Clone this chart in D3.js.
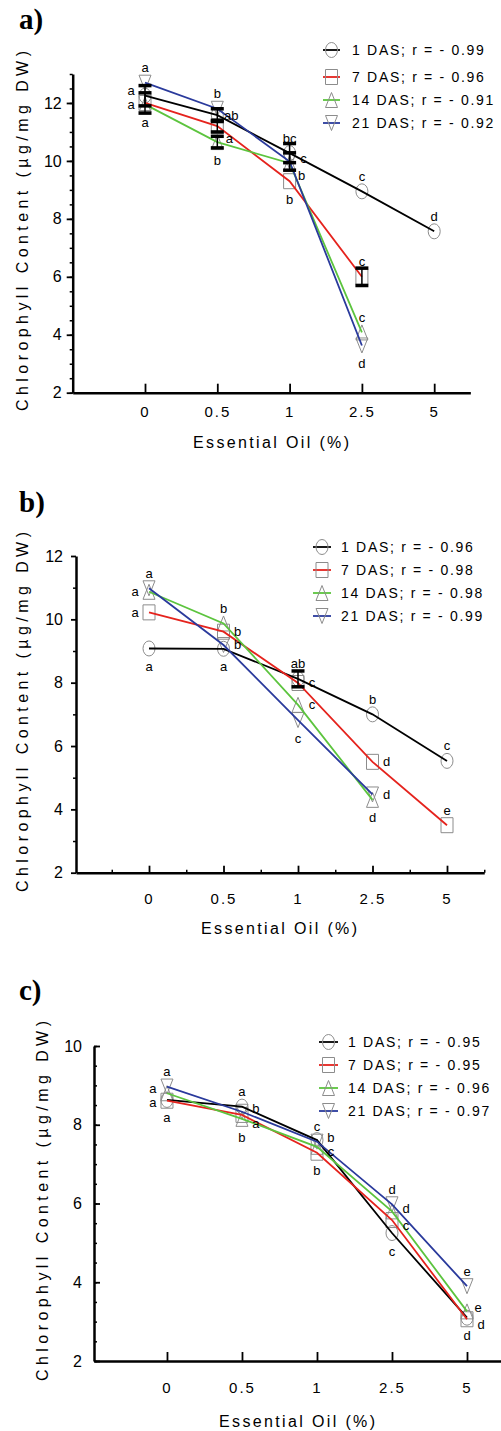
<!DOCTYPE html>
<html><head><meta charset="utf-8">
<script src="https://cdn.jsdelivr.net/npm/d3@7"></script>
<style>body{margin:0;background:#fff} svg{display:block} text{font-family:Arial,"Liberation Sans",sans-serif;fill:#000}</style>
</head><body><svg id="chart" width="501" height="1431"></svg>
<script>
// ---------- data ----------
const categories = ["0", "0.5", "1", "2.5", "5"];
const seriesNames = ["1 DAS", "7 DAS", "14 DAS", "21 DAS"];

// panel a
const aR = ["- 0.99", "- 0.96", "- 0.91", "- 0.92"];
const a1 = [12.25, 11.58, 10.27, 8.95, 7.57];
const a7 = [12.0, 11.2, 9.3, 6.0, null];
const a14 = [11.95, 10.65, 9.92, 4.08, null];
const a21 = [12.7, 11.8, 9.98, 3.63, null];
const a1Err = [0.35, 0.22, 0.33, 0, 0];
const a7Err = [0.35, 0.2, 0, 0.3, 0];
const a14Err = [0, 0.2, 0, 0, 0];
const a21Err = [0, 0, 0.3, 0, 0];
const a1Let = ["a", "ab", "bc", "c", "d"];
const a7Let = ["a", "a", "b", "c", ""];
const a14Let = ["a", "b", "b", "c", ""];
const a21Let = ["a", "b", "c", "d", ""];

// panel b
const bR = ["- 0.96", "- 0.98", "- 0.98", "- 0.99"];
const b1 = [9.08, 9.07, 8.12, 7.0, 5.53];
const b7 = [10.22, 9.61, 7.99, 5.5, 3.5];
const b14 = [10.87, 9.87, 7.3, 4.3, null];
const b21 = [10.98, 9.19, 6.82, 4.47, null];
const b1Err = [0, 0, 0.25, 0, 0];
const b1Let = ["a", "a", "ab", "b", "c"];
const b7Let = ["a", "b", "c", "d", "e"];
const b14Let = ["a", "b", "c", "d", ""];
const b21Let = ["a", "b", "c", "d", ""];

// panel c
const cR = ["- 0.95", "- 0.95", "- 0.96", "- 0.97"];
const c1 = [8.63, 8.46, 7.61, 5.25, 3.1];
const c7 = [8.61, 8.25, 7.29, 5.58, 3.06];
const c14 = [8.8, 8.15, 7.44, 5.8, 3.26];
const c21 = [8.97, 8.33, 7.57, 5.98, 3.9];
const c1Let = ["a", "a", "b", "c", "d"];
const c7Let = ["a", "b", "b", "c", "d"];
const c14Let = ["a", "a", "c", "d", "e"];
const c21Let = ["a", "b", "c", "d", "e"];

// ---------- label placement (layout, not data) ----------
const aPos = [["lu","r","t","t","t"],["ld","br","b","t",""],["b","b","br","t",""],["t","t","ru","b",""]];
const bPos = [["b","b","t","t","t"],["l","r","r","r","t"],["l","t","r","b",""],["t","r","b","r",""]];
const cPos = [["b","t","ru","b","b"],["ld","bb","b","rd","rd"],["lu","rd","rd","ru","ruu"],["t","ru","t","t","t"]];

const zero = [0,0,0,0,0];
const panels = [
  { title: "a)", series: [a1, a7, a14, a21], err: [a1Err, a7Err, a14Err, a21Err],
    lets: [a1Let, a7Let, a14Let, a21Let], pos: aPos, r: aR,
    L: { titleX: 19, titleY: 29, xDom: [-1, 4.5], xRange: [72.7, 470.35], yDom: [2, 13], yRange: [392.7, 74],
         yMajor: [2,4,6,8,10,12], yMinor: d3.range(2, 13.01, 0.5), yTick: 6, yMinorTick: 3, yPad: 5,
         xMinor: null, xTick: 9, xPad: 14, yLabX: 28, yLabY: 231, xLabX: 271, xLabY: 448,
         legLine: [323, 340], legTextX: 352, legY: [50, 77, 100, 123] } },
  { title: "b)", series: [b1, b7, b14, b21], err: [b1Err, zero, zero, zero],
    lets: [b1Let, b7Let, b14Let, b21Let], pos: bPos, r: bR,
    L: { titleX: 19, titleY: 512, xDom: [-0.98, 4.5], xRange: [76, 484.25], yDom: [2, 12], yRange: [872.7, 556],
         yMajor: [2,4,6,8,10,12], yMinor: d3.range(3, 12, 2), yTick: 5, yMinorTick: 3, yPad: 8,
         xMinor: d3.range(-0.5, 4.6, 1), xTick: 7, xPad: 21, yLabX: 28, yLabY: 712, xLabX: 279, xLabY: 934,
         legLine: [313, 331], legTextX: 341, legY: [547, 570, 593, 616] } },
  { title: "c)", series: [c1, c7, c14, c21], err: [zero, zero, zero, zero],
    lets: [c1Let, c7Let, c14Let, c21Let], pos: cPos, r: cR,
    L: { titleX: 19, titleY: 1000, xDom: [-0.973, 4.5], xRange: [94, 504.5], yDom: [2, 10], yRange: [1361, 1046],
         yMajor: [2,4,6,8,10], yMinor: d3.range(2, 10.01, 0.5), yTick: -6, yMinorTick: -3, yPad: 12,
         xMinor: null, xTick: 9, xPad: 21, yLabX: 48, yLabY: 1201, xLabX: 297, xLabY: 1427,
         legLine: [319, 338], legTextX: 348, legY: [1042, 1065, 1088, 1111] } }
];

const colors = ["#000000", "#e5231d", "#5cc43e", "#2a3a9c"];
const markerColor = "#8c8c8c";
const shapes = ["circle", "square", "up", "down"];

function markerPath(shape, w, h) {
  const hw = w / 2, hh = h / 2;
  if (shape === "circle") {
    return `M${-hw},0 A${hw},${hh} 0 1,0 ${hw},0 A${hw},${hh} 0 1,0 ${-hw},0 Z`;
  } else if (shape === "square") {
    return `M${-hw},${-hh} H${hw} V${hh} H${-hw} Z`;
  } else if (shape === "up") {
    return `M0,${-hh} L${hw},${hh} L${-hw},${hh} Z`;
  } else {
    return `M${-hw},${-hh} L${hw},${-hh} L0,${hh} Z`;
  }
}

const svg = d3.select("#chart");
const offsets = { t: [0, -15], b: [0, 18], bb: [0, 23], l: [-14, 0], lu: [-14, -5], ld: [-14, 2],
                  r: [14, 0], ru: [14, -3], ruu: [11, -4], rd: [14, 5], br: [12, 12] };

panels.forEach(p => {
  const L = p.L;
  const g = svg.append("g");
  const x = d3.scaleLinear().domain(L.xDom).range(L.xRange);
  const y = d3.scaleLinear().domain(L.yDom).range(L.yRange);

  // title
  g.append("text").attr("x", L.titleX).attr("y", L.titleY)
    .style("font-family", "'Liberation Serif','Times New Roman',serif")
    .style("font-weight", "bold").style("font-size", "29px").text(p.title);

  // y axis minor
  g.append("g").attr("transform", `translate(${x(L.xDom[0])},0)`)
    .call(d3.axisLeft(y).tickValues(L.yMinor).tickFormat("").tickSize(L.yMinorTick).tickSizeOuter(0))
    .call(s => s.select(".domain").remove())
    .call(s => s.selectAll("line").attr("stroke-width", 1.5));
  // y axis major
  const ya = g.append("g").attr("transform", `translate(${x(L.xDom[0])},0)`)
    .call(d3.axisLeft(y).tickValues(L.yMajor).tickFormat(d3.format("d")).tickSize(L.yTick).tickSizeOuter(0).tickPadding(L.yPad));
  ya.select(".domain").attr("stroke-width", 2.5);
  ya.selectAll("line").attr("stroke-width", 1.8);
  ya.selectAll("text").style("font-size", "16px").style("font-family", "Arial,'Liberation Sans',sans-serif");

  // x axis minor
  if (L.xMinor) {
    g.append("g").attr("transform", `translate(0,${y(L.yDom[0])})`)
      .call(d3.axisBottom(x).tickValues(L.xMinor).tickFormat("").tickSize(-3).tickSizeOuter(0))
      .call(s => s.select(".domain").remove())
      .call(s => s.selectAll("line").attr("stroke-width", 1.5));
  }
  // x axis major
  const xa = g.append("g").attr("transform", `translate(0,${y(L.yDom[0])})`)
    .call(d3.axisBottom(x).tickValues(d3.range(categories.length)).tickFormat(i => categories[i])
      .tickSize(-L.xTick).tickSizeOuter(0).tickPadding(L.xPad));
  xa.select(".domain").attr("stroke-width", 2.5);
  xa.selectAll("line").attr("stroke-width", 1.8);
  xa.selectAll("text").style("font-size", "15px").style("letter-spacing", "2px")
    .style("font-family", "Arial,'Liberation Sans',sans-serif");

  // axis titles
  g.append("text").attr("transform", `translate(${L.yLabX},${L.yLabY}) rotate(-90)`)
    .attr("text-anchor", "middle").style("font-size", "16px")
    .attr("textLength", 360).attr("lengthAdjust", "spacing")
    .text("Chlorophyll Content (µg/mg DW)");
  g.append("text").attr("x", L.xLabX).attr("y", L.xLabY)
    .attr("text-anchor", "middle").style("font-size", "16px")
    .attr("textLength", 156).attr("lengthAdjust", "spacing")
    .text("Essential Oil (%)");

  // markers
  p.series.forEach((s, si) => {
    g.append("g").selectAll("path").data(s.map((v, i) => ({ v, i })).filter(d => d.v != null))
      .join("path")
      .attr("d", markerPath(shapes[si], 12, 15))
      .attr("transform", d => `translate(${x(d.i)},${y(d.v)})`)
      .attr("fill", "none").attr("stroke", markerColor).attr("stroke-width", 1);
  });

  // lines
  p.series.forEach((s, si) => {
    const line = d3.line().defined(d => d != null).x((d, i) => x(i)).y(d => y(d));
    g.append("path").datum(s).attr("d", line)
      .attr("fill", "none").attr("stroke", colors[si]).attr("stroke-width", 1.8);
  });

  // error bars
  p.series.forEach((s, si) => {
    const eg = g.append("g");
    s.forEach((v, i) => {
      const e = p.err[si][i];
      if (v == null || !e) return;
      const cx = x(i);
      eg.append("line").attr("x1", cx).attr("x2", cx).attr("y1", y(v + e)).attr("y2", y(v - e))
        .attr("stroke", "#000").attr("stroke-width", 1.5);
      [v + e, v - e].forEach(val => {
        eg.append("line").attr("x1", cx - 6.5).attr("x2", cx + 6.5).attr("y1", y(val)).attr("y2", y(val))
          .attr("stroke", "#000").attr("stroke-width", 3.5);
      });
    });
  });

  // significance letters
  p.series.forEach((s, si) => {
    s.forEach((v, i) => {
      const t = p.lets[si][i];
      if (v == null || !t) return;
      const o = offsets[p.pos[si][i]];
      g.append("text").attr("x", x(i) + o[0]).attr("y", y(v) + o[1])
        .attr("text-anchor", "middle").attr("dominant-baseline", "central")
        .style("font-size", "13px").text(t);
    });
  });

  // legend
  seriesNames.forEach((name, si) => {
    const ly = L.legY[si];
    g.append("line").attr("x1", L.legLine[0]).attr("x2", L.legLine[1]).attr("y1", ly).attr("y2", ly)
      .attr("stroke", colors[si]).attr("stroke-width", 1.8);
    g.append("path").attr("d", markerPath(shapes[si], 12, 15))
      .attr("transform", `translate(${(L.legLine[0] + L.legLine[1]) / 2},${ly})`)
      .attr("fill", "none").attr("stroke", markerColor).attr("stroke-width", 1);
    g.append("text").attr("x", L.legTextX).attr("y", ly).attr("dominant-baseline", "central")
      .style("font-size", "14px").style("letter-spacing", "1.7px")
      .text(`${name}; r = ${p.r[si]}`);
  });
});
</script>
</body></html>
